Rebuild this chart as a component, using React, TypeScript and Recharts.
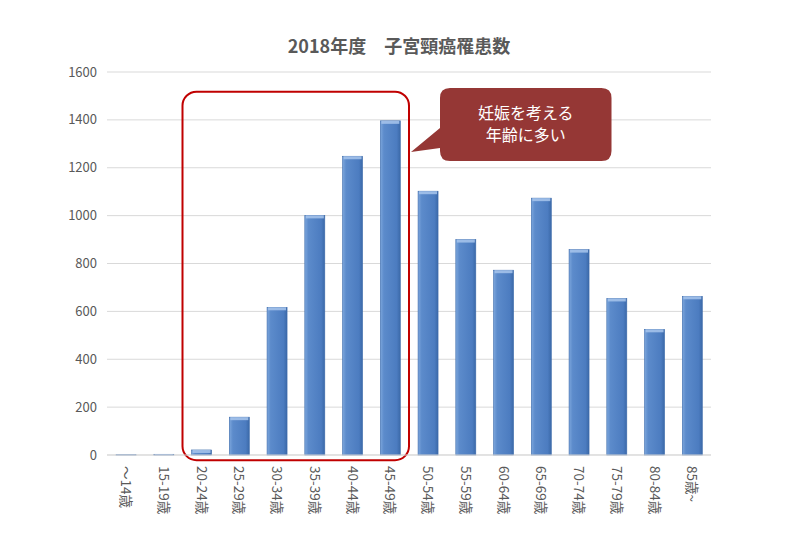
import React from 'react';
import { BarChart, Bar, XAxis, YAxis, CartesianGrid, ReferenceArea } from 'recharts';

const categories = [
  '〜14歳', '15-19歳', '20-24歳', '25-29歳', '30-34歳', '35-39歳', '40-44歳', '45-49歳',
  '50-54歳', '55-59歳', '60-64歳', '65-69歳', '70-74歳', '75-79歳', '80-84歳', '85歳~',
];
const patients = [1, 3, 21, 158, 617, 1001, 1248, 1396, 1102, 900, 772, 1073, 858, 654, 525, 663];
const yTicks = [0, 200, 400, 600, 800, 1000, 1200, 1400, 1600];
const titleText = '2018年度　子宮頸癌罹患数';
const calloutLines = ['妊娠を考える', '年齢に多い'];
const highlightRange = ['20-24歳', '45-49歳'];
const calloutRange = ['50-54歳', '75-79歳'];

const data = categories.map((c, i) => ({ name: c, value: patients[i] }));

const FONT = '"Noto Sans CJK JP", "Noto Sans", sans-serif';
const GREY = '#595959';

const XTick = (props: any) => {
  const { x, y, payload } = props;
  return (
    <text
      x={x}
      y={y}
      dx={3}
      dy="0.35em"
      transform={`rotate(90, ${x}, ${y})`}
      textAnchor="start"
      fontSize={13.5}
      fill={GREY}
      fontFamily={FONT}
    >
      {payload.value}
    </text>
  );
};

const BarShape = (p: any) => {
  const { x, y, width, height } = p;
  if (!height || height <= 0) return null;
  const cap = Math.min(3, height);
  return (
    <g>
      <rect x={x} y={y} width={width} height={height} fill="url(#barGrad)" stroke="#3d6bab" strokeWidth={0.6} />
      <rect x={x + 1} y={y} width={Math.max(0, width - 2)} height={cap} fill="#a8c5ec" opacity={0.85} />
    </g>
  );
};

const RedBox = (p: any) => {
  const { x, y, width, height } = p;
  return <rect x={x} y={y} width={width} height={height} rx={14} ry={14} fill="none" stroke="#c00000" strokeWidth={2} />;
};

const Callout = (p: any) => {
  const { x, y, width, height } = p;
  const bx = x + 31;
  const bw = width - 55;
  const by = y;
  const bh = height;
  const r = 10;
  const tipX = x + 2;
  const tipY = by + 64;
  const d = [
    `M ${bx + r},${by}`,
    `H ${bx + bw - r}`,
    `Q ${bx + bw},${by} ${bx + bw},${by + r}`,
    `V ${by + bh - r}`,
    `Q ${bx + bw},${by + bh} ${bx + bw - r},${by + bh}`,
    `H ${bx + r}`,
    `Q ${bx},${by + bh} ${bx},${by + bh - r}`,
    `V ${by + 60}`,
    `L ${tipX},${tipY}`,
    `L ${bx},${by + 40}`,
    `V ${by + r}`,
    `Q ${bx},${by} ${bx + r},${by}`,
    'Z',
  ].join(' ');
  const cx = bx + bw / 2;
  return (
    <g>
      <path d={d} fill="#953735" />
      {calloutLines.map((t, i) => (
        <text
          key={i}
          x={cx}
          y={by + 24 + i * 22}
          textAnchor="middle"
          dominantBaseline="central"
          fill="#ffffff"
          fontSize={16}
          fontFamily={FONT}
        >
          {t}
        </text>
      ))}
    </g>
  );
};

export default function App() {
  return (
    <div style={{ position: 'absolute', left: 0, top: 0, width: 800, height: 533, background: '#fff' }}>
      <div
        style={{
          position: 'absolute',
          left: 0,
          top: 34,
          width: 798,
          height: 22,
          lineHeight: '22px',
          textAlign: 'center',
          fontFamily: FONT,
          fontWeight: 'bold',
          fontSize: 18,
          color: GREY,
          zIndex: 2,
        }}
      >
        {titleText}
      </div>
      <BarChart
        width={800}
        height={533}
        data={data}
        margin={{ top: 72, right: 89, left: 0, bottom: 0 }}
        barCategoryGap="24%"
      >
        <defs>
          <linearGradient id="barGrad" x1="0" y1="0" x2="1" y2="0">
            <stop offset="0%" stopColor="#7ca6dc" />
            <stop offset="18%" stopColor="#5c8bcb" />
            <stop offset="82%" stopColor="#4c7cc0" />
            <stop offset="100%" stopColor="#3b69a8" />
          </linearGradient>
        </defs>
        <CartesianGrid vertical={false} stroke="#d9d9d9" />
        <XAxis
          dataKey="name"
          interval={0}
          height={78}
          tickLine={false}
          axisLine={{ stroke: '#d9d9d9' }}
          tick={<XTick />}
        />
        <YAxis
          width={107}
          domain={[0, 1600]}
          ticks={yTicks}
          axisLine={false}
          tickLine={false}
          tickMargin={4}
          tick={{ fontSize: 13, fill: GREY, fontFamily: FONT }}
        />
        <Bar dataKey="value" isAnimationActive={false} shape={<BarShape />} />
        <ReferenceArea
          x1={highlightRange[0]}
          x2={highlightRange[1]}
          y1={-22}
          y2={1518}
          ifOverflow="visible"
          shape={<RedBox />}
        />
        <ReferenceArea
          x1={calloutRange[0]}
          x2={calloutRange[1]}
          y1={1228}
          y2={1533}
          ifOverflow="visible"
          shape={<Callout />}
        />
      </BarChart>
    </div>
  );
}
